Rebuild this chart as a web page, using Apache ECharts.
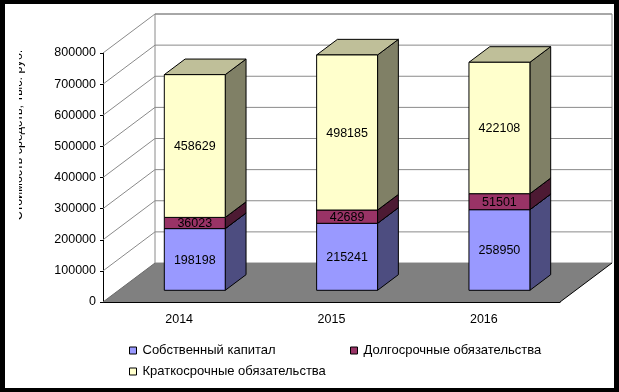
<!DOCTYPE html>
<html>
<head>
<meta charset="utf-8">
<script src="https://cdn.jsdelivr.net/npm/echarts@6/dist/echarts.min.js"></script>
<style>
html,body{margin:0;padding:0;background:#000;}
#frame{position:absolute;left:5px;top:4px;width:609px;height:384px;background:#fff;}
#chart{position:absolute;left:0;top:0;width:619px;height:392px;}
</style>
</head>
<body>
<div id="frame"></div>
<div id="chart"></div>
<script>
// ---- data ----
const categories = ['2014', '2015', '2016'];
const seriesNames = ['Собственный капитал', 'Долгосрочные обязательства', 'Краткосрочные обязательства'];
const equity = [198198, 215241, 258950];
const longTerm = [36023, 42689, 51501];
const shortTerm = [458629, 498185, 422108];
const yTicks = [0, 100000, 200000, 300000, 400000, 500000, 600000, 700000, 800000];
const yTitle = 'Стоимость средств, тыс. руб.';

// ---- styling / geometry ----
const FONT = 'Liberation Sans, Arial, sans-serif';
const DX = 52, DY = -39;          // depth of the 3D box
const palette = [
  {front: '#9999FF', side: '#4D4D80', top: '#7373BF'},
  {front: '#993366', side: '#4D1A33', top: '#73264C'},
  {front: '#FFFFCC', side: '#808066', top: '#BFBF99'}
];
const valueSets = [equity, longTerm, shortTerm];

function stackedData(k) {
  return categories.map((c, i) => {
    let base = 0;
    for (let j = 0; j < k; j++) base += valueSets[j][i];
    return [i, base, valueSets[k][i]];
  });
}

function barRender(k) {
  const col = palette[k];
  return function (params, api) {
    const cat = api.value(0), base = api.value(1), val = api.value(2);
    const pB = api.coord([cat, base]);
    const pT = api.coord([cat, base + val]);
    const band = api.size([1, 0])[0];
    const w = band * 0.4;
    const ox = DX * 0.3, oy = DY * 0.3, dx = DX * 0.4, dy = DY * 0.4;
    const L = pB[0] - w / 2 + ox, R = L + w;
    const yb = pB[1] + oy, yt = pT[1] + oy;
    const st = {stroke: '#000', lineWidth: 1};
    return {
      type: 'group',
      children: [
        {type: 'polygon', shape: {points: [[R, yb], [R + dx, yb + dy], [R + dx, yt + dy], [R, yt]]},
          style: Object.assign({fill: col.side}, st)},
        {type: 'polygon', shape: {points: [[L, yt], [R, yt], [R + dx, yt + dy], [L + dx, yt + dy]]},
          style: Object.assign({fill: col.top}, st)},
        {type: 'rect', shape: {x: L, y: yt, width: w, height: yb - yt},
          style: Object.assign({fill: col.front}, st)},
        {type: 'text', style: {text: String(val), x: (L + R) / 2, y: (yb + yt) / 2 + 1,
          align: 'center', verticalAlign: 'middle', font: '12.5px ' + FONT, fill: '#000'}}
      ]
    };
  };
}

function wallRender(params, api) {
  const cs = params.coordSys;
  const x0 = cs.x, x1 = cs.x + cs.width;
  const v = api.value(1);
  const y = api.coord([0, v])[1];
  const y0 = api.coord([0, 0])[1];
  const yTop = api.coord([0, yTicks[yTicks.length - 1]])[1];
  const grey = '#8a8a8a';
  const children = [];
  if (params.dataIndex === 0) {
    children.push({type: 'rect', shape: {x: x0 + DX, y: yTop + DY, width: x1 - x0, height: y0 - yTop},
      style: {fill: '#fff', stroke: grey, lineWidth: 1}});
    children.push({type: 'polygon', shape: {points: [[x0, y0], [x1, y0], [x1 + DX, y0 + DY], [x0 + DX, y0 + DY]]},
      style: {fill: '#808080'}});
    children.push({type: 'line', shape: {x1: x1, y1: y0, x2: x1 + DX, y2: y0 + DY},
      style: {stroke: '#000', lineWidth: 1}});
    children.push({type: 'line', shape: {x1: x0, y1: y0, x2: x0 + DX, y2: y0 + DY},
      style: {stroke: '#6a6a6a', lineWidth: 1}});
  } else {
    children.push({type: 'line', shape: {x1: x0 + DX, y1: y + DY, x2: x1 + DX, y2: y + DY},
      style: {stroke: grey, lineWidth: 1}});
    children.push({type: 'line', shape: {x1: x0, y1: y, x2: x0 + DX, y2: y + DY},
      style: {stroke: grey, lineWidth: 1}});
  }
  return {type: 'group', children: children};
}

const chart = echarts.init(document.getElementById('chart'), null, {renderer: 'canvas'});

const series = [{
  type: 'custom', name: '_walls', z: 1, clip: false, silent: true,
  renderItem: wallRender,
  data: yTicks.map(v => [0, v])
}];
seriesNames.forEach((n, k) => {
  series.push({
    type: 'custom', name: n, z: 2 + k, clip: false,
    itemStyle: {color: palette[k].front},
    renderItem: barRender(k),
    encode: {x: 0, y: [1, 2]},
    data: stackedData(k)
  });
});

function legendItem(name, left, top) {
  return {
    data: [name], left: left, top: top, padding: 0, icon: 'rect',
    itemWidth: 7, itemHeight: 7, itemGap: 0,
    itemStyle: {borderColor: '#000', borderWidth: 1},
    textStyle: {fontFamily: FONT, fontSize: 13, color: '#000', padding: [0, 0, 0, 1]}
  };
}

chart.setOption({
  animation: false,
  backgroundColor: 'transparent',
  textStyle: {fontFamily: FONT},
  grid: {left: 103, right: 59, top: 53, bottom: 90},
  xAxis: {
    type: 'category', data: categories,
    axisLine: {lineStyle: {color: '#000', width: 1}},
    axisTick: {length: 4, lineStyle: {color: '#000'}},
    axisLabel: {color: '#000', fontSize: 12.5, fontFamily: FONT, margin: 11},
    splitLine: {show: false}
  },
  yAxis: {
    type: 'value', min: 0, max: 800000, interval: 100000,
    axisLine: {show: true, lineStyle: {color: '#000', width: 1}},
    axisTick: {show: true, length: 3, lineStyle: {color: '#000'}},
    axisLabel: {color: '#000', fontSize: 12.5, fontFamily: FONT, margin: 7,
      formatter: function (v) { return String(v); }},
    splitLine: {show: false}
  },
  legend: [
    legendItem(seriesNames[0], 129, 344),
    legendItem(seriesNames[1], 350, 344),
    legendItem(seriesNames[2], 129, 365)
  ],
  graphic: [
    {type: 'text', x: 25, y: 135, rotation: Math.PI / 2, z: 10,
      style: {text: yTitle, align: 'center', verticalAlign: 'bottom', font: '12.5px ' + FONT, fill: '#000'}},
    {type: 'rect', shape: {x: 5, y: 40, width: 14, height: 190}, z: 100,
      style: {fill: '#fff'}}
  ],
  series: series
});
</script>
</body>
</html>
